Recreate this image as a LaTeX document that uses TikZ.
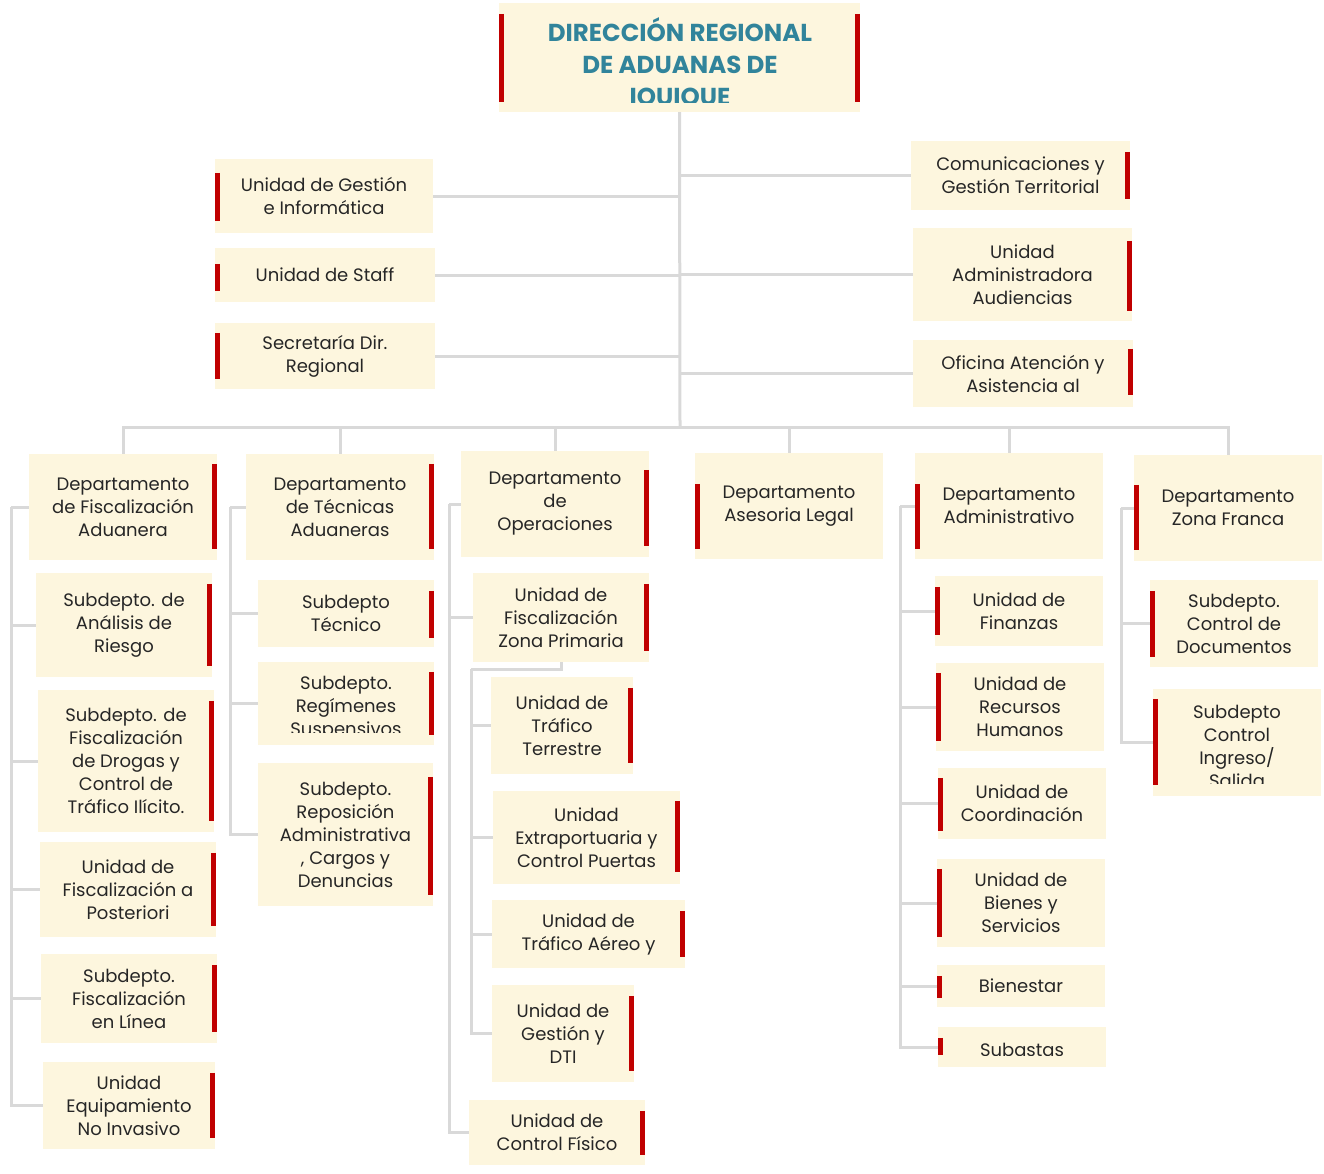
\documentclass[tikz,border=0pt]{standalone}
\usepackage{fontspec}
\setmainfont{Poppins}
\usepackage{tikz}
\definecolor{crema}{RGB}{253,246,222}
\definecolor{rojo}{RGB}{192,0,0}
\definecolor{gris}{RGB}{217,217,217}
\definecolor{azul}{RGB}{49,132,155}
\definecolor{tinta}{RGB}{38,38,38}
\tikzstyle{caja} = [fill=crema, rectangle, inner sep=0pt, align=center, text=tinta, font=\fontsize{18}{23}\selectfont]
\tikzstyle{depto} = [caja, minimum width=188pt, minimum height=106pt]
\tikzstyle{texto} = [inner sep=0pt, align=center, text=tinta, font=\fontsize{18}{23}\selectfont]
\tikzstyle{titulo} = [inner sep=0pt, align=center, text=azul, font=\bfseries\fontsize{24.5}{32}\selectfont]
\tikzstyle{barra} = [draw=rojo, line width=5pt]
\tikzstyle{linea} = [draw=gris, line width=3pt]
\newcommand{\barizq}[3]{\draw[barra] ([xshift=3pt,yshift=-#2pt]#1.north west) -- ([xshift=3pt,yshift=#3pt]#1.south west);}
\newcommand{\barder}[3]{\draw[barra] ([xshift=-3pt,yshift=-#2pt]#1.north east) -- ([xshift=-3pt,yshift=#3pt]#1.south east);}

\begin{document}
\begin{tikzpicture}[x=1pt,y=-1pt]
	\useasboundingbox (0,0) rectangle (1324,1173);
	% direccion
	\node[caja, minimum width=361pt, minimum height=109pt] (dir) at (679.5,57.5) {};
	\begin{scope}
		\clip (499,3) rectangle (860,102);
		\node[titulo] (dirtxt) at (680,63) {DIRECCIÓN REGIONAL\\DE ADUANAS DE\\IQUIQUE};
	\end{scope}
	\barizq{dir}{11}{10}
	\barder{dir}{11}{10}

	% staff
	\node[caja, minimum width=218pt, minimum height=74pt] (ugi) at (324,196) {Unidad de Gestión\\e Informática};
	\node[caja, minimum width=220pt, minimum height=54pt] (ust) at (325,275) {Unidad de Staff};
	\node[caja, minimum width=220pt, minimum height=66pt] (sdr) at (325,356) {Secretaría Dir.\\Regional};
	\node[caja, minimum width=219pt, minimum height=69pt] (cgt) at (1020.5,175.5) {Comunicaciones y\\Gestión Territorial};
	\node[caja, minimum width=219pt, minimum height=93pt] (uaa) at (1022.5,274.5) {Unidad\\Administradora\\Audiencias};
	\node[caja, minimum width=220pt, minimum height=67pt] (oaa) at (1023,373.5) {Oficina Atención y\\Asistencia al};
	\barizq{ugi}{14}{12}
	\barizq{ust}{16}{11}
	\barizq{sdr}{10}{10}
	\barder{cgt}{11}{11}
	\barder{uaa}{13}{10}
	\barder{oaa}{9}{12}

	% departamentos
	\node[depto] (dfa) at (123,507) {Departamento\\de Fiscalización\\Aduanera};
	\node[depto] (dta) at (340,507) {Departamento\\de Técnicas\\Aduaneras};
	\node[depto] (dop) at (555,504) {Departamento\\de\\Operaciones};
	\node[depto] (dal) at (789,506) {Departamento\\Asesoria Legal};
	\node[depto] (dad) at (1009,506) {Departamento\\Administrativo};
	\node[depto] (dzf) at (1228,508) {Departamento\\Zona Franca};
	\barder{dfa}{10}{11}
	\barder{dta}{10}{11}
	\barder{dop}{19}{11}
	\barizq{dal}{31}{10}
	\barizq{dad}{31}{10}
	\barizq{dzf}{30}{11}

	% fiscalizacion aduanera
	\node[caja, minimum width=176pt, minimum height=104pt] (sar) at (124,625) {Subdepto. de\\Análisis de\\Riesgo};
	\node[caja, minimum width=176pt, minimum height=142pt] (sfd) at (126,761) {Subdepto. de\\Fiscalización\\de Drogas y\\Control de\\Tráfico Ilícito.};
	\node[caja, minimum width=176pt, minimum height=95pt] (ufp) at (128,889.5) {Unidad de\\Fiscalización a\\Posteriori};
	\node[caja, minimum width=176pt, minimum height=89pt] (sfl) at (129,998.5) {Subdepto.\\Fiscalización\\en Línea};
	\node[caja, minimum width=172pt, minimum height=87pt] (uen) at (129,1105.5) {Unidad\\Equipamiento\\No Invasivo};
	\barder{sar}{11}{11}
	\barder{sfd}{11}{11}
	\barder{ufp}{11}{11}
	\barder{sfl}{11}{11}
	\barder{uen}{11}{11}

	% tecnicas aduaneras
	\node[caja, minimum width=176pt, minimum height=67pt] (stc) at (346,613.5) {Subdepto\\Técnico};
	\node[caja, minimum width=176pt, minimum height=83pt] (srs) at (346,703.5) {};
	\begin{scope}
		\clip (258,662) rectangle (434,732);
		\node[texto] (srstxt) at (346,708) {Subdepto.\\Regímenes\\Suspensivos};
	\end{scope}
	\node[caja, minimum width=175pt, minimum height=143pt] (sra) at (345.5,834.5) {Subdepto.\\Reposición\\Administrativa\\, Cargos y\\Denuncias};
	\barder{stc}{11}{9}
	\barder{srs}{10}{10}
	\barder{sra}{14}{11}

	% operaciones
	\node[caja, minimum width=176pt, minimum height=89pt] (ufz) at (561,617.5) {Unidad de\\Fiscalización\\Zona Primaria};
	\node[caja, minimum width=142pt, minimum height=97pt] (utt) at (562,725.5) {Unidad de\\Tráfico\\Terrestre};
	\node[caja, minimum width=187pt, minimum height=93pt] (uex) at (586.5,837.5) {Unidad\\Extraportuaria y\\Control Puertas};
	\node[caja, minimum width=193pt, minimum height=68pt] (uta) at (588.5,934) {Unidad de\\Tráfico Aéreo y};
	\node[caja, minimum width=142pt, minimum height=97pt] (ugd) at (563,1033.5) {Unidad de\\Gestión y\\DTI};
	\node[caja, minimum width=176pt, minimum height=65pt] (ucf) at (557,1132.5) {Unidad de\\Control Físico};
	\barder{ufz}{11}{11}
	\barder{utt}{11}{11}
	\barder{uex}{10}{12}
	\barder{uta}{11}{11}
	\barder{ugd}{11}{11}
	\barder{ucf}{11}{10}

	% administrativo
	\node[caja, minimum width=168pt, minimum height=70pt] (ufi) at (1019,611) {Unidad de\\Finanzas};
	\node[caja, minimum width=168pt, minimum height=88pt] (urh) at (1020,707) {Unidad de\\Recursos\\Humanos};
	\node[caja, minimum width=168pt, minimum height=71pt] (uco) at (1022,803.5) {Unidad de\\Coordinación};
	\node[caja, minimum width=168pt, minimum height=88pt] (ubs) at (1021,903) {Unidad de\\Bienes y\\Servicios};
	\node[caja, minimum width=168pt, minimum height=42pt] (bie) at (1021,986) {Bienestar};
	\node[caja, minimum width=168pt, minimum height=40pt] (sub) at (1022,1047) {};
	\begin{scope}
		\clip (938,1027) rectangle (1106,1055);
		\node[texto] (subtxt) at (1022,1050) {Subastas};
	\end{scope}
	\barizq{ufi}{11}{11}
	\barizq{urh}{10}{10}
	\barizq{uco}{10}{8}
	\barizq{ubs}{10}{10}
	\barizq{bie}{11}{9}
	\barizq{sub}{11}{12}

	% zona franca
	\node[caja, minimum width=168pt, minimum height=87pt] (scd) at (1234,623.5) {Subdepto.\\Control de\\Documentos};
	\node[caja, minimum width=168pt, minimum height=107pt] (sci) at (1237,742.5) {};
	\begin{scope}
		\clip (1153,689) rectangle (1321,783);
		\node[texto] (scitxt) at (1237,746.5) {Subdepto\\Control\\Ingreso/\\Salida};
	\end{scope}
	\barizq{scd}{11}{10}
	\barizq{sci}{10}{11}

	% conectores
	\coordinate (bus) at (680,427);
	\draw[linea] (dir.south) -- (bus);
	\foreach \n in {ugi,ust,sdr}
		\draw[linea] (\n.east) -- (\n.east -| bus);
	\foreach \n in {cgt,uaa,oaa}
		\draw[linea] (\n.west) -- (\n.west -| bus);
	\foreach \n in {dfa,dta,dop,dal,dad,dzf}
		\draw[linea] (bus) -| (\n.north);

	\coordinate (ejeA) at (11,507);
	\draw[linea] (dfa.west) -- (ejeA);
	\foreach \n in {sar,sfd,ufp,sfl,uen}
		\draw[linea] (ejeA) |- (\n.west);

	\coordinate (ejeB) at (230,507);
	\draw[linea] (dta.west) -- (ejeB);
	\foreach \n in {stc,srs,sra}
		\draw[linea] (ejeB) |- (\n.west);

	\coordinate (ejeC) at (449,504);
	\draw[linea] (dop.west) -- (ejeC);
	\foreach \n in {ufz,ucf}
		\draw[linea] (ejeC) |- (\n.west);
	\coordinate (ejeZ) at (471,669);
	\draw[linea] (ufz.south) |- (ejeZ);
	\foreach \n in {utt,uex,uta,ugd}
		\draw[linea] (ejeZ) |- (\n.west);

	\coordinate (ejeE) at (900,506);
	\draw[linea] (dad.west) -- (ejeE);
	\foreach \n in {ufi,urh,uco,ubs,bie,sub}
		\draw[linea] (ejeE) |- (\n.west);

	\coordinate (ejeF) at (1121,508);
	\draw[linea] (dzf.west) -- (ejeF);
	\foreach \n in {scd,sci}
		\draw[linea] (ejeF) |- (\n.west);
\end{tikzpicture}
\end{document}
